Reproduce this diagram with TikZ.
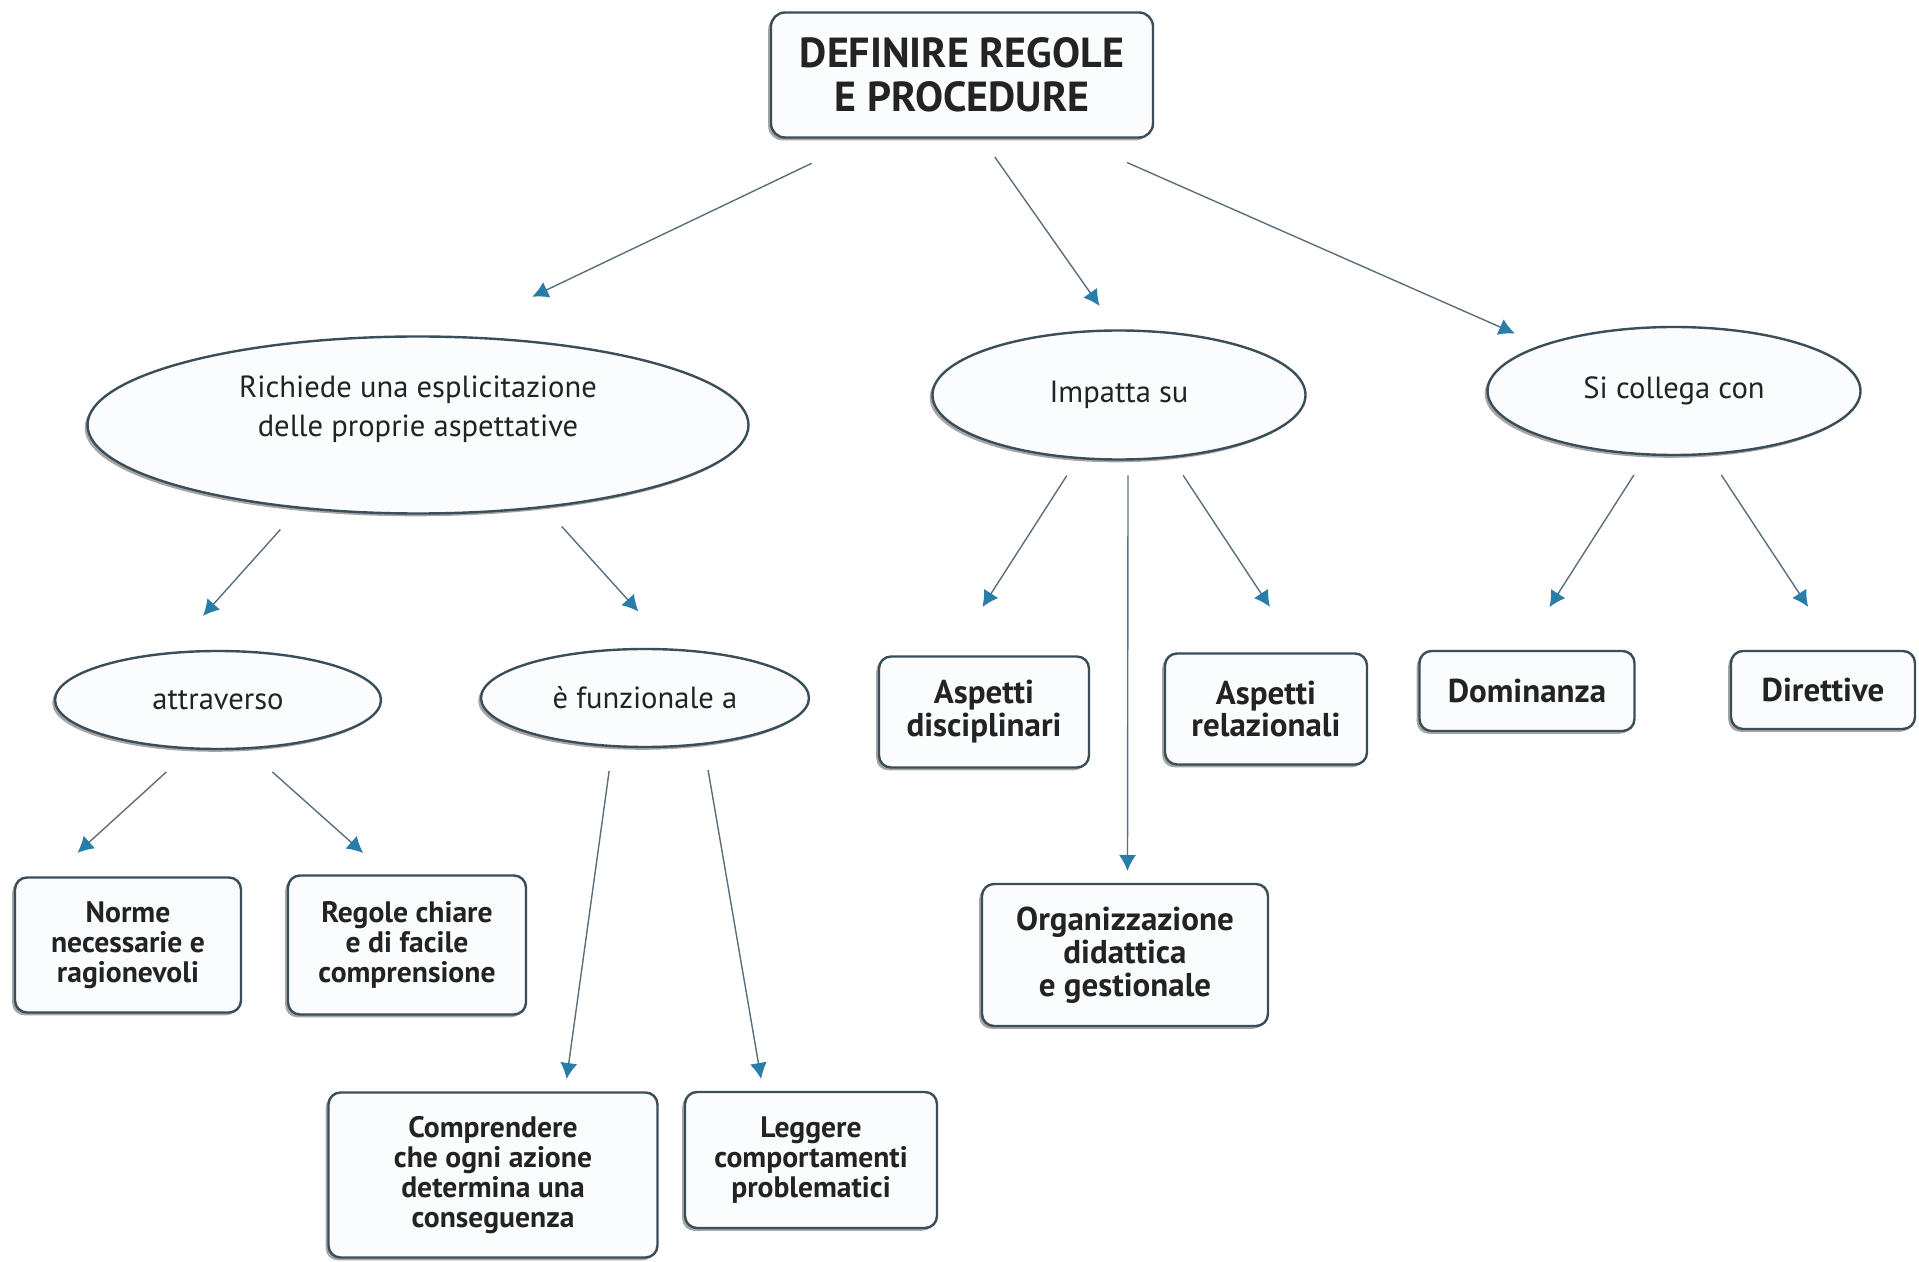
\documentclass[tikz,border=0pt]{standalone}
\usepackage{fontspec}
\setmainfont{PT Sans}
\usepackage{tikz}
\usetikzlibrary{arrows.meta,positioning,shapes.geometric,shadows}
\definecolor{nodeline}{RGB}{58,78,90}
\definecolor{nodefill}{RGB}{250,252,253}
\definecolor{arrowline}{RGB}{90,110,125}
\definecolor{arrowtip}{RGB}{40,126,168}
\definecolor{inktext}{RGB}{35,35,35}

\begin{document}
\begin{tikzpicture}[x=0.5pt, y=-0.5pt,
  base/.style={draw=nodeline, line width=1.2pt, fill=nodefill, text=inktext,
    align=center, inner sep=2pt, outer sep=0pt,
    drop shadow={shadow xshift=-1.4pt, shadow yshift=-1.4pt, fill=black, opacity=0.35}},
  topic/.style={base, rounded corners=7pt,
    font=\bfseries\fontsize{21}{22}\selectfont},
  concept/.style={base, rounded corners=6pt,
    font=\bfseries\fontsize{14.8}{15}\selectfont},
  conceptL/.style={concept, font=\bfseries\fontsize{16.5}{16.5}\selectfont},
  link/.style={base, ellipse, font=\fontsize{15.3}{19.5}\selectfont},
  arrow/.style={-{Latex[length=8pt,width=8.5pt,color=arrowtip]},
    draw=arrowline, line width=0.7pt}
]
  \useasboundingbox (0,0) rectangle (1919,1262);

  % Title
  \node[topic, minimum width=191pt, minimum height=62.5pt] (title) at (962,75)
    {DEFINIRE REGOLE\\E PROCEDURE};

  % Links
  \node[link, minimum width=330.5pt, minimum height=88.5pt, text depth=19pt] (rich) at (418,425)
    {Richiede una esplicitazione\\delle proprie aspettative};
  \node[link, minimum width=186.5pt, minimum height=64.5pt] (impatta) at (1119,395) {Impatta su};
  \node[link, minimum width=186.5pt, minimum height=64pt] (collega) at (1674,391) {Si collega con};
  \node[link, minimum width=163pt, minimum height=49pt] (attr) at (218,700) {attraverso};
  \node[link, minimum width=164pt, minimum height=49pt] (funz) at (645,698) {è funzionale a};

  % Concepts
  \node[concept, minimum width=113pt, minimum height=67.5pt] (norme) at (128,945)
    {Norme\\necessarie e\\ragionevoli};
  \node[concept, minimum width=119pt, minimum height=69.5pt] (regole) at (407,945)
    {Regole chiare\\e di facile\\comprensione};
  \node[concept, minimum width=164.5pt, minimum height=82.5pt] (compr) at (493,1175)
    {Comprendere\\che ogni azione\\determina una\\conseguenza};
  \node[concept, minimum width=126pt, minimum height=68pt] (legg) at (811,1160)
    {Leggere\\comportamenti\\problematici};
  \node[conceptL, minimum width=105pt, minimum height=55.5pt] (disc) at (984,712)
    {Aspetti\\disciplinari};
  \node[conceptL, minimum width=101pt, minimum height=55.5pt] (rel) at (1266,709)
    {Aspetti\\relazionali};
  \node[conceptL, minimum width=143pt, minimum height=71pt] (org) at (1125,955)
    {Organizzazione\\didattica\\e gestionale};
  \node[conceptL, minimum width=107.5pt, minimum height=40pt] (dom) at (1527,691) {Dominanza};
  \node[conceptL, minimum width=92pt, minimum height=39pt] (dir) at (1823,690) {Direttive};

  % Arrows from the title
  \draw[arrow, shorten <=30pt, shorten >=46.5pt] (title.-147.4) -- (rich.71.2);
  \draw[arrow, shorten <=12pt, shorten >=15pt] (title.-73) -- (impatta.92.7);
  \draw[arrow, shorten <=31pt, shorten >=15pt] (title.-30.6) -- (collega.161.3);

  % Left branch
  \draw[arrow, shorten <=14.7pt, shorten >=25pt] (rich.-145.3) -- (attr.136.7);
  \draw[arrow, shorten <=13.2pt, shorten >=25.7pt] (rich.-33.5) -- (funz.60.1);
  \draw[arrow, shorten <=17.5pt, shorten >=18.3pt] (attr.-118.3) -- (norme.139.1);
  \draw[arrow, shorten <=17.8pt, shorten >=16.9pt] (attr.-60.4) -- (regole.105.1);
  \draw[arrow, shorten <=12.6pt, shorten >=6.8pt] (funz.-124) -- (compr.49.6);
  \draw[arrow, shorten <=13.3pt, shorten >=6.6pt] (funz.-38.6) -- (legg.125.7);

  % Middle branch
  \draw[arrow, shorten <=10.5pt, shorten >=29.4pt] (impatta.-123.1) -- (disc.121.3);
  \draw[arrow, shorten <=8pt, shorten >=6.5pt] (impatta.-82.9) -- (org.88.4);
  \draw[arrow, shorten <=11pt, shorten >=27.9pt] (impatta.-50.4) -- (rel.58.8);

  % Right branch
  \draw[arrow, shorten <=12.3pt, shorten >=26pt] (collega.-113.7) -- (dom.98.5);
  \draw[arrow, shorten <=12.6pt, shorten >=26.4pt] (collega.-62.3) -- (dir.70.4);
\end{tikzpicture}
\end{document}
